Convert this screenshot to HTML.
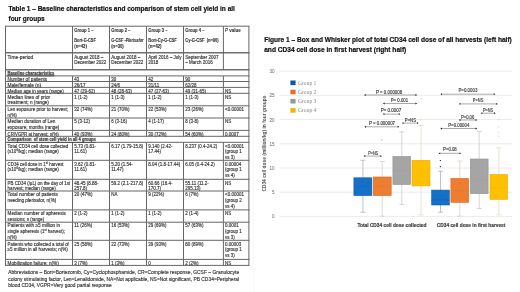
<!DOCTYPE html>
<html><head><meta charset="utf-8"><title>Table 1 and Figure 1</title>
<style>
html,body{margin:0;padding:0;background:#fff;}
body{width:520px;height:292px;overflow:hidden;}
svg{display:block;}
</style></head>
<body>
<svg width="520" height="292" viewBox="0 0 520 292" font-family="Liberation Sans, Arial, sans-serif" font-size="5" fill="#333">
<text x="0" y="0" transform="translate(8.50,10.90) scale(0.857,1)" font-size="7.6" font-weight="700" fill="#111" stroke="#111" stroke-width="0.22">Table 1 – Baseline characteristics and comparison of stem cell yield in all</text>
<text x="0" y="0" transform="translate(8.50,20.90) scale(0.85,1)" font-size="7.6" font-weight="700" fill="#111" stroke="#111" stroke-width="0.22">four groups</text>
<line x1="5.00" y1="26.20" x2="249.40" y2="26.20" stroke="#666" stroke-width="1.0" />
<line x1="5.00" y1="52.70" x2="249.40" y2="52.70" stroke="#707070" stroke-width="1.4" />
<line x1="5.00" y1="69.70" x2="249.40" y2="69.70" stroke="#707070" stroke-width="1.4" />
<line x1="5.00" y1="75.90" x2="249.40" y2="75.90" stroke="#666" stroke-width="1.0" />
<line x1="5.00" y1="81.50" x2="249.40" y2="81.50" stroke="#666" stroke-width="1.0" />
<line x1="5.00" y1="87.40" x2="249.40" y2="87.40" stroke="#666" stroke-width="1.0" />
<line x1="5.00" y1="93.30" x2="249.40" y2="93.30" stroke="#666" stroke-width="1.0" />
<line x1="5.00" y1="105.80" x2="249.40" y2="105.80" stroke="#666" stroke-width="1.0" />
<line x1="5.00" y1="118.00" x2="249.40" y2="118.00" stroke="#666" stroke-width="1.0" />
<line x1="5.00" y1="130.40" x2="249.40" y2="130.40" stroke="#666" stroke-width="1.0" />
<line x1="5.00" y1="136.30" x2="249.40" y2="136.30" stroke="#666" stroke-width="1.0" />
<line x1="5.00" y1="142.30" x2="249.40" y2="142.30" stroke="#666" stroke-width="1.0" />
<line x1="5.00" y1="160.30" x2="249.40" y2="160.30" stroke="#666" stroke-width="1.0" />
<line x1="5.00" y1="179.30" x2="249.40" y2="179.30" stroke="#666" stroke-width="1.0" />
<line x1="5.00" y1="191.00" x2="249.40" y2="191.00" stroke="#666" stroke-width="1.0" />
<line x1="5.00" y1="209.90" x2="249.40" y2="209.90" stroke="#666" stroke-width="1.0" />
<line x1="5.00" y1="222.20" x2="249.40" y2="222.20" stroke="#666" stroke-width="1.0" />
<line x1="5.00" y1="240.30" x2="249.40" y2="240.30" stroke="#666" stroke-width="1.0" />
<line x1="5.00" y1="259.40" x2="249.40" y2="259.40" stroke="#666" stroke-width="1.0" />
<line x1="5.00" y1="265.40" x2="249.40" y2="265.40" stroke="#666" stroke-width="1.0" />
<line x1="5.50" y1="26.20" x2="5.50" y2="52.70" stroke="#666" stroke-width="1.0" />
<line x1="248.90" y1="26.20" x2="248.90" y2="52.70" stroke="#666" stroke-width="1.0" />
<line x1="72.50" y1="26.20" x2="72.50" y2="52.70" stroke="#666" stroke-width="1.0" />
<line x1="109.50" y1="26.20" x2="109.50" y2="52.70" stroke="#666" stroke-width="1.0" />
<line x1="146.50" y1="26.20" x2="146.50" y2="52.70" stroke="#666" stroke-width="1.0" />
<line x1="183.50" y1="26.20" x2="183.50" y2="52.70" stroke="#666" stroke-width="1.0" />
<line x1="223.40" y1="26.20" x2="223.40" y2="52.70" stroke="#666" stroke-width="1.0" />
<line x1="5.50" y1="52.70" x2="5.50" y2="69.70" stroke="#666" stroke-width="1.0" />
<line x1="248.90" y1="52.70" x2="248.90" y2="69.70" stroke="#666" stroke-width="1.0" />
<line x1="72.50" y1="52.70" x2="72.50" y2="69.70" stroke="#666" stroke-width="1.0" />
<line x1="109.50" y1="52.70" x2="109.50" y2="69.70" stroke="#666" stroke-width="1.0" />
<line x1="146.50" y1="52.70" x2="146.50" y2="69.70" stroke="#666" stroke-width="1.0" />
<line x1="183.50" y1="52.70" x2="183.50" y2="69.70" stroke="#666" stroke-width="1.0" />
<line x1="223.40" y1="52.70" x2="223.40" y2="69.70" stroke="#666" stroke-width="1.0" />
<line x1="5.50" y1="69.70" x2="5.50" y2="75.90" stroke="#666" stroke-width="1.0" />
<line x1="248.90" y1="69.70" x2="248.90" y2="75.90" stroke="#666" stroke-width="1.0" />
<line x1="5.50" y1="75.90" x2="5.50" y2="81.50" stroke="#666" stroke-width="1.0" />
<line x1="248.90" y1="75.90" x2="248.90" y2="81.50" stroke="#666" stroke-width="1.0" />
<line x1="72.50" y1="75.90" x2="72.50" y2="81.50" stroke="#666" stroke-width="1.0" />
<line x1="109.50" y1="75.90" x2="109.50" y2="81.50" stroke="#666" stroke-width="1.0" />
<line x1="146.50" y1="75.90" x2="146.50" y2="81.50" stroke="#666" stroke-width="1.0" />
<line x1="183.50" y1="75.90" x2="183.50" y2="81.50" stroke="#666" stroke-width="1.0" />
<line x1="223.40" y1="75.90" x2="223.40" y2="81.50" stroke="#666" stroke-width="1.0" />
<line x1="5.50" y1="81.50" x2="5.50" y2="87.40" stroke="#666" stroke-width="1.0" />
<line x1="248.90" y1="81.50" x2="248.90" y2="87.40" stroke="#666" stroke-width="1.0" />
<line x1="72.50" y1="81.50" x2="72.50" y2="87.40" stroke="#666" stroke-width="1.0" />
<line x1="109.50" y1="81.50" x2="109.50" y2="87.40" stroke="#666" stroke-width="1.0" />
<line x1="146.50" y1="81.50" x2="146.50" y2="87.40" stroke="#666" stroke-width="1.0" />
<line x1="183.50" y1="81.50" x2="183.50" y2="87.40" stroke="#666" stroke-width="1.0" />
<line x1="223.40" y1="81.50" x2="223.40" y2="87.40" stroke="#666" stroke-width="1.0" />
<line x1="5.50" y1="87.40" x2="5.50" y2="93.30" stroke="#666" stroke-width="1.0" />
<line x1="248.90" y1="87.40" x2="248.90" y2="93.30" stroke="#666" stroke-width="1.0" />
<line x1="72.50" y1="87.40" x2="72.50" y2="93.30" stroke="#666" stroke-width="1.0" />
<line x1="109.50" y1="87.40" x2="109.50" y2="93.30" stroke="#666" stroke-width="1.0" />
<line x1="146.50" y1="87.40" x2="146.50" y2="93.30" stroke="#666" stroke-width="1.0" />
<line x1="183.50" y1="87.40" x2="183.50" y2="93.30" stroke="#666" stroke-width="1.0" />
<line x1="223.40" y1="87.40" x2="223.40" y2="93.30" stroke="#666" stroke-width="1.0" />
<line x1="5.50" y1="93.30" x2="5.50" y2="105.80" stroke="#666" stroke-width="1.0" />
<line x1="248.90" y1="93.30" x2="248.90" y2="105.80" stroke="#666" stroke-width="1.0" />
<line x1="72.50" y1="93.30" x2="72.50" y2="105.80" stroke="#666" stroke-width="1.0" />
<line x1="109.50" y1="93.30" x2="109.50" y2="105.80" stroke="#666" stroke-width="1.0" />
<line x1="146.50" y1="93.30" x2="146.50" y2="105.80" stroke="#666" stroke-width="1.0" />
<line x1="183.50" y1="93.30" x2="183.50" y2="105.80" stroke="#666" stroke-width="1.0" />
<line x1="223.40" y1="93.30" x2="223.40" y2="105.80" stroke="#666" stroke-width="1.0" />
<line x1="5.50" y1="105.80" x2="5.50" y2="118.00" stroke="#666" stroke-width="1.0" />
<line x1="248.90" y1="105.80" x2="248.90" y2="118.00" stroke="#666" stroke-width="1.0" />
<line x1="72.50" y1="105.80" x2="72.50" y2="118.00" stroke="#666" stroke-width="1.0" />
<line x1="109.50" y1="105.80" x2="109.50" y2="118.00" stroke="#666" stroke-width="1.0" />
<line x1="146.50" y1="105.80" x2="146.50" y2="118.00" stroke="#666" stroke-width="1.0" />
<line x1="183.50" y1="105.80" x2="183.50" y2="118.00" stroke="#666" stroke-width="1.0" />
<line x1="223.40" y1="105.80" x2="223.40" y2="118.00" stroke="#666" stroke-width="1.0" />
<line x1="5.50" y1="118.00" x2="5.50" y2="130.40" stroke="#666" stroke-width="1.0" />
<line x1="248.90" y1="118.00" x2="248.90" y2="130.40" stroke="#666" stroke-width="1.0" />
<line x1="72.50" y1="118.00" x2="72.50" y2="130.40" stroke="#666" stroke-width="1.0" />
<line x1="109.50" y1="118.00" x2="109.50" y2="130.40" stroke="#666" stroke-width="1.0" />
<line x1="146.50" y1="118.00" x2="146.50" y2="130.40" stroke="#666" stroke-width="1.0" />
<line x1="183.50" y1="118.00" x2="183.50" y2="130.40" stroke="#666" stroke-width="1.0" />
<line x1="223.40" y1="118.00" x2="223.40" y2="130.40" stroke="#666" stroke-width="1.0" />
<line x1="5.50" y1="130.40" x2="5.50" y2="136.30" stroke="#666" stroke-width="1.0" />
<line x1="248.90" y1="130.40" x2="248.90" y2="136.30" stroke="#666" stroke-width="1.0" />
<line x1="72.50" y1="130.40" x2="72.50" y2="136.30" stroke="#666" stroke-width="1.0" />
<line x1="109.50" y1="130.40" x2="109.50" y2="136.30" stroke="#666" stroke-width="1.0" />
<line x1="146.50" y1="130.40" x2="146.50" y2="136.30" stroke="#666" stroke-width="1.0" />
<line x1="183.50" y1="130.40" x2="183.50" y2="136.30" stroke="#666" stroke-width="1.0" />
<line x1="223.40" y1="130.40" x2="223.40" y2="136.30" stroke="#666" stroke-width="1.0" />
<line x1="5.50" y1="136.30" x2="5.50" y2="142.30" stroke="#666" stroke-width="1.0" />
<line x1="248.90" y1="136.30" x2="248.90" y2="142.30" stroke="#666" stroke-width="1.0" />
<line x1="5.50" y1="142.30" x2="5.50" y2="160.30" stroke="#666" stroke-width="1.0" />
<line x1="248.90" y1="142.30" x2="248.90" y2="160.30" stroke="#666" stroke-width="1.0" />
<line x1="72.50" y1="142.30" x2="72.50" y2="160.30" stroke="#666" stroke-width="1.0" />
<line x1="109.50" y1="142.30" x2="109.50" y2="160.30" stroke="#666" stroke-width="1.0" />
<line x1="146.50" y1="142.30" x2="146.50" y2="160.30" stroke="#666" stroke-width="1.0" />
<line x1="183.50" y1="142.30" x2="183.50" y2="160.30" stroke="#666" stroke-width="1.0" />
<line x1="223.40" y1="142.30" x2="223.40" y2="160.30" stroke="#666" stroke-width="1.0" />
<line x1="5.50" y1="160.30" x2="5.50" y2="179.30" stroke="#666" stroke-width="1.0" />
<line x1="248.90" y1="160.30" x2="248.90" y2="179.30" stroke="#666" stroke-width="1.0" />
<line x1="72.50" y1="160.30" x2="72.50" y2="179.30" stroke="#666" stroke-width="1.0" />
<line x1="109.50" y1="160.30" x2="109.50" y2="179.30" stroke="#666" stroke-width="1.0" />
<line x1="146.50" y1="160.30" x2="146.50" y2="179.30" stroke="#666" stroke-width="1.0" />
<line x1="183.50" y1="160.30" x2="183.50" y2="179.30" stroke="#666" stroke-width="1.0" />
<line x1="223.40" y1="160.30" x2="223.40" y2="179.30" stroke="#666" stroke-width="1.0" />
<line x1="5.50" y1="179.30" x2="5.50" y2="191.00" stroke="#666" stroke-width="1.0" />
<line x1="248.90" y1="179.30" x2="248.90" y2="191.00" stroke="#666" stroke-width="1.0" />
<line x1="72.50" y1="179.30" x2="72.50" y2="191.00" stroke="#666" stroke-width="1.0" />
<line x1="109.50" y1="179.30" x2="109.50" y2="191.00" stroke="#666" stroke-width="1.0" />
<line x1="146.50" y1="179.30" x2="146.50" y2="191.00" stroke="#666" stroke-width="1.0" />
<line x1="183.50" y1="179.30" x2="183.50" y2="191.00" stroke="#666" stroke-width="1.0" />
<line x1="223.40" y1="179.30" x2="223.40" y2="191.00" stroke="#666" stroke-width="1.0" />
<line x1="5.50" y1="191.00" x2="5.50" y2="209.90" stroke="#666" stroke-width="1.0" />
<line x1="248.90" y1="191.00" x2="248.90" y2="209.90" stroke="#666" stroke-width="1.0" />
<line x1="72.50" y1="191.00" x2="72.50" y2="209.90" stroke="#666" stroke-width="1.0" />
<line x1="109.50" y1="191.00" x2="109.50" y2="209.90" stroke="#666" stroke-width="1.0" />
<line x1="146.50" y1="191.00" x2="146.50" y2="209.90" stroke="#666" stroke-width="1.0" />
<line x1="183.50" y1="191.00" x2="183.50" y2="209.90" stroke="#666" stroke-width="1.0" />
<line x1="223.40" y1="191.00" x2="223.40" y2="209.90" stroke="#666" stroke-width="1.0" />
<line x1="5.50" y1="209.90" x2="5.50" y2="222.20" stroke="#666" stroke-width="1.0" />
<line x1="248.90" y1="209.90" x2="248.90" y2="222.20" stroke="#666" stroke-width="1.0" />
<line x1="72.50" y1="209.90" x2="72.50" y2="222.20" stroke="#666" stroke-width="1.0" />
<line x1="109.50" y1="209.90" x2="109.50" y2="222.20" stroke="#666" stroke-width="1.0" />
<line x1="146.50" y1="209.90" x2="146.50" y2="222.20" stroke="#666" stroke-width="1.0" />
<line x1="183.50" y1="209.90" x2="183.50" y2="222.20" stroke="#666" stroke-width="1.0" />
<line x1="223.40" y1="209.90" x2="223.40" y2="222.20" stroke="#666" stroke-width="1.0" />
<line x1="5.50" y1="222.20" x2="5.50" y2="240.30" stroke="#666" stroke-width="1.0" />
<line x1="248.90" y1="222.20" x2="248.90" y2="240.30" stroke="#666" stroke-width="1.0" />
<line x1="72.50" y1="222.20" x2="72.50" y2="240.30" stroke="#666" stroke-width="1.0" />
<line x1="109.50" y1="222.20" x2="109.50" y2="240.30" stroke="#666" stroke-width="1.0" />
<line x1="146.50" y1="222.20" x2="146.50" y2="240.30" stroke="#666" stroke-width="1.0" />
<line x1="183.50" y1="222.20" x2="183.50" y2="240.30" stroke="#666" stroke-width="1.0" />
<line x1="223.40" y1="222.20" x2="223.40" y2="240.30" stroke="#666" stroke-width="1.0" />
<line x1="5.50" y1="240.30" x2="5.50" y2="259.40" stroke="#666" stroke-width="1.0" />
<line x1="248.90" y1="240.30" x2="248.90" y2="259.40" stroke="#666" stroke-width="1.0" />
<line x1="72.50" y1="240.30" x2="72.50" y2="259.40" stroke="#666" stroke-width="1.0" />
<line x1="109.50" y1="240.30" x2="109.50" y2="259.40" stroke="#666" stroke-width="1.0" />
<line x1="146.50" y1="240.30" x2="146.50" y2="259.40" stroke="#666" stroke-width="1.0" />
<line x1="183.50" y1="240.30" x2="183.50" y2="259.40" stroke="#666" stroke-width="1.0" />
<line x1="223.40" y1="240.30" x2="223.40" y2="259.40" stroke="#666" stroke-width="1.0" />
<line x1="5.50" y1="259.40" x2="5.50" y2="265.40" stroke="#666" stroke-width="1.0" />
<line x1="248.90" y1="259.40" x2="248.90" y2="265.40" stroke="#666" stroke-width="1.0" />
<line x1="72.50" y1="259.40" x2="72.50" y2="265.40" stroke="#666" stroke-width="1.0" />
<line x1="109.50" y1="259.40" x2="109.50" y2="265.40" stroke="#666" stroke-width="1.0" />
<line x1="146.50" y1="259.40" x2="146.50" y2="265.40" stroke="#666" stroke-width="1.0" />
<line x1="183.50" y1="259.40" x2="183.50" y2="265.40" stroke="#666" stroke-width="1.0" />
<line x1="223.40" y1="259.40" x2="223.40" y2="265.40" stroke="#666" stroke-width="1.0" />
<text x="74.30" y="31.50" font-weight="700" textLength="19.2" lengthAdjust="spacingAndGlyphs" stroke="#333" stroke-width="0.1">Group 1 –</text>
<text x="74.30" y="41.90" font-weight="700" textLength="21.5" lengthAdjust="spacingAndGlyphs" stroke="#333" stroke-width="0.1">Bort-G-CSF</text>
<text x="74.30" y="47.90" font-weight="700" textLength="12.6" lengthAdjust="spacingAndGlyphs" stroke="#333" stroke-width="0.1">(n=43)</text>
<text x="111.20" y="31.50" font-weight="700" textLength="19.2" lengthAdjust="spacingAndGlyphs" stroke="#333" stroke-width="0.1">Group 2 –</text>
<text x="111.20" y="41.90" font-weight="700" textLength="32.4" lengthAdjust="spacingAndGlyphs" stroke="#333" stroke-width="0.1">G-CSF <tspan font-style="italic" font-weight="700">-Plerixafor</tspan></text>
<text x="111.20" y="47.90" font-weight="700" textLength="12.6" lengthAdjust="spacingAndGlyphs" stroke="#333" stroke-width="0.1">(n=30)</text>
<text x="148.30" y="31.50" font-weight="700" textLength="19.2" lengthAdjust="spacingAndGlyphs" stroke="#333" stroke-width="0.1">Group 3 –</text>
<text x="148.30" y="41.90" font-weight="700" textLength="28.4" lengthAdjust="spacingAndGlyphs" stroke="#333" stroke-width="0.1">Bort-Cy-G-CSF</text>
<text x="148.30" y="47.90" font-weight="700" textLength="13.3" lengthAdjust="spacingAndGlyphs" stroke="#333" stroke-width="0.1">(n=42)</text>
<text x="185.30" y="31.50" font-weight="700" textLength="19.2" lengthAdjust="spacingAndGlyphs" stroke="#333" stroke-width="0.1">Group 4 –</text>
<text x="185.30" y="41.90" font-weight="700" textLength="33.4" lengthAdjust="spacingAndGlyphs" stroke="#333" stroke-width="0.1">Cy-G-CSF&#160;&#160;(n=90)</text>
<text x="225.10" y="31.50" font-weight="700" textLength="15.6" lengthAdjust="spacingAndGlyphs" stroke="#333" stroke-width="0.1"><tspan font-style="italic" font-weight="400">P</tspan> value</text>
<text x="7.60" y="58.50" textLength="25.6" lengthAdjust="spacingAndGlyphs" stroke="#333" stroke-width="0.15">Time-period</text>
<text x="0" y="0" transform="translate(74.30,58.50) scale(0.9,1)" stroke="#333" stroke-width="0.15">August 2018 –</text>
<text x="0" y="0" transform="translate(74.30,64.40) scale(0.9,1)" stroke="#333" stroke-width="0.15">December 2022</text>
<text x="0" y="0" transform="translate(111.20,58.50) scale(0.9,1)" stroke="#333" stroke-width="0.15">August 2018 –</text>
<text x="0" y="0" transform="translate(111.20,64.40) scale(0.9,1)" stroke="#333" stroke-width="0.15">December 2022</text>
<text x="0" y="0" transform="translate(148.30,58.50) scale(0.9,1)" stroke="#333" stroke-width="0.15">April 2016 – July</text>
<text x="0" y="0" transform="translate(148.30,64.40) scale(0.9,1)" stroke="#333" stroke-width="0.15">2018</text>
<text x="0" y="0" transform="translate(185.30,58.50) scale(0.9,1)" stroke="#333" stroke-width="0.15">September 2007</text>
<text x="0" y="0" transform="translate(185.30,64.40) scale(0.9,1)" stroke="#333" stroke-width="0.15">– March 2016</text>
<text x="7.60" y="74.60" font-weight="700" textLength="46.8" lengthAdjust="spacingAndGlyphs" text-decoration="underline" stroke="#333" stroke-width="0.2">Baseline characteristics</text>
<text x="7.60" y="81.10" textLength="39.6" lengthAdjust="spacingAndGlyphs" stroke="#333" stroke-width="0.15">Number of patients</text>
<text x="0" y="0" transform="translate(74.30,81.10) scale(0.9,1)" stroke="#333" stroke-width="0.15">43</text>
<text x="0" y="0" transform="translate(111.20,81.10) scale(0.9,1)" stroke="#333" stroke-width="0.15">30</text>
<text x="0" y="0" transform="translate(148.30,81.10) scale(0.9,1)" stroke="#333" stroke-width="0.15">42</text>
<text x="0" y="0" transform="translate(185.30,81.10) scale(0.9,1)" stroke="#333" stroke-width="0.15">90</text>
<text x="7.60" y="86.70" textLength="33.5" lengthAdjust="spacingAndGlyphs" stroke="#333" stroke-width="0.15">Male/female (n)</text>
<text x="0" y="0" transform="translate(74.30,86.70) scale(0.9,1)" stroke="#333" stroke-width="0.15">26/17</text>
<text x="0" y="0" transform="translate(111.20,86.70) scale(0.9,1)" stroke="#333" stroke-width="0.15">24/6</text>
<text x="0" y="0" transform="translate(148.30,86.70) scale(0.9,1)" stroke="#333" stroke-width="0.15">31/11</text>
<text x="0" y="0" transform="translate(185.30,86.70) scale(0.9,1)" stroke="#333" stroke-width="0.15">62/28</text>
<text x="7.60" y="92.60" textLength="56.2" lengthAdjust="spacingAndGlyphs" stroke="#333" stroke-width="0.15">Median age in years (range)</text>
<text x="0" y="0" transform="translate(74.30,92.60) scale(0.9,1)" stroke="#333" stroke-width="0.15">47 (29-62)</text>
<text x="0" y="0" transform="translate(111.20,92.60) scale(0.9,1)" stroke="#333" stroke-width="0.15">48 (28-63)</text>
<text x="0" y="0" transform="translate(148.30,92.60) scale(0.9,1)" stroke="#333" stroke-width="0.15">47 (27-63)</text>
<text x="0" y="0" transform="translate(185.30,92.60) scale(0.9,1)" stroke="#333" stroke-width="0.15">49 (31-65)</text>
<text x="0" y="0" transform="translate(225.10,92.60) scale(0.9,1)" stroke="#333" stroke-width="0.15">NS</text>
<text x="7.60" y="98.50" textLength="42.5" lengthAdjust="spacingAndGlyphs" stroke="#333" stroke-width="0.15">Median lines of prior</text>
<text x="7.60" y="104.40" textLength="41.3" lengthAdjust="spacingAndGlyphs" stroke="#333" stroke-width="0.15">treatment; n (range)</text>
<text x="0" y="0" transform="translate(74.30,98.50) scale(0.9,1)" stroke="#333" stroke-width="0.15">1 (1-2)</text>
<text x="0" y="0" transform="translate(111.20,98.50) scale(0.9,1)" stroke="#333" stroke-width="0.15">1 (1-3)</text>
<text x="0" y="0" transform="translate(148.30,98.50) scale(0.9,1)" stroke="#333" stroke-width="0.15">1 (1-2)</text>
<text x="0" y="0" transform="translate(185.30,98.50) scale(0.9,1)" stroke="#333" stroke-width="0.15">1 (1-3)</text>
<text x="0" y="0" transform="translate(225.10,98.50) scale(0.9,1)" stroke="#333" stroke-width="0.15">NS</text>
<text x="7.60" y="111.00" textLength="60.5" lengthAdjust="spacingAndGlyphs" stroke="#333" stroke-width="0.15">Len exposure prior to harvest;</text>
<text x="7.60" y="116.90" textLength="9.1" lengthAdjust="spacingAndGlyphs" stroke="#333" stroke-width="0.15">n(%)</text>
<text x="0" y="0" transform="translate(74.30,111.00) scale(0.9,1)" stroke="#333" stroke-width="0.15">32 (74%)</text>
<text x="0" y="0" transform="translate(111.20,111.00) scale(0.9,1)" stroke="#333" stroke-width="0.15">21 (70%)</text>
<text x="0" y="0" transform="translate(148.30,111.00) scale(0.9,1)" stroke="#333" stroke-width="0.15">22 (53%)</text>
<text x="0" y="0" transform="translate(185.30,111.00) scale(0.9,1)" stroke="#333" stroke-width="0.15">23 (26%)</text>
<text x="0" y="0" transform="translate(225.10,111.00) scale(0.9,1)" stroke="#333" stroke-width="0.15">&lt;0.00001</text>
<text x="7.60" y="123.20" textLength="47.8" lengthAdjust="spacingAndGlyphs" stroke="#333" stroke-width="0.15">Median duration of Len</text>
<text x="7.60" y="129.10" textLength="51.8" lengthAdjust="spacingAndGlyphs" stroke="#333" stroke-width="0.15">exposure; months (range)</text>
<text x="0" y="0" transform="translate(74.30,123.20) scale(0.9,1)" stroke="#333" stroke-width="0.15">5 (3-12)</text>
<text x="0" y="0" transform="translate(111.20,123.20) scale(0.9,1)" stroke="#333" stroke-width="0.15">6 (3-16)</text>
<text x="0" y="0" transform="translate(148.30,123.20) scale(0.9,1)" stroke="#333" stroke-width="0.15">4 (1-17)</text>
<text x="0" y="0" transform="translate(185.30,123.20) scale(0.9,1)" stroke="#333" stroke-width="0.15">8 (3-8)</text>
<text x="0" y="0" transform="translate(225.10,123.20) scale(0.9,1)" stroke="#333" stroke-width="0.15">NS</text>
<text x="7.60" y="135.60" textLength="51.2" lengthAdjust="spacingAndGlyphs" stroke="#333" stroke-width="0.15">CR/VGPR at harvest; n(%)</text>
<text x="0" y="0" transform="translate(74.30,135.60) scale(0.9,1)" stroke="#333" stroke-width="0.15">40 (93%)</text>
<text x="0" y="0" transform="translate(111.20,135.60) scale(0.9,1)" stroke="#333" stroke-width="0.15">24 (80%)</text>
<text x="0" y="0" transform="translate(148.30,135.60) scale(0.9,1)" stroke="#333" stroke-width="0.15">30 (72%)</text>
<text x="0" y="0" transform="translate(185.30,135.60) scale(0.9,1)" stroke="#333" stroke-width="0.15">54 (60%)</text>
<text x="0" y="0" transform="translate(225.10,135.60) scale(0.9,1)" stroke="#333" stroke-width="0.15">0.0007</text>
<text x="7.60" y="141.20" font-weight="700" textLength="88.2" lengthAdjust="spacingAndGlyphs" text-decoration="underline" stroke="#333" stroke-width="0.2">Comparison&#160; of stem cell yield in all 4 groups</text>
<text x="7.60" y="147.50" textLength="60.8" lengthAdjust="spacingAndGlyphs" stroke="#333" stroke-width="0.15">Total CD34 cell dose collected</text>
<text x="7.60" y="153.40" textLength="51.2" lengthAdjust="spacingAndGlyphs" stroke="#333" stroke-width="0.15">(x10<tspan font-size="3.4" baseline-shift="1.7">6</tspan>/kg); median (range)</text>
<text x="0" y="0" transform="translate(74.30,147.50) scale(0.9,1)" stroke="#333" stroke-width="0.15">5.73 (0.81-</text>
<text x="0" y="0" transform="translate(74.30,153.40) scale(0.9,1)" stroke="#333" stroke-width="0.15">11.61)</text>
<text x="0" y="0" transform="translate(111.20,147.50) scale(0.9,1)" stroke="#333" stroke-width="0.15">6.17 (1.79-15.8)</text>
<text x="0" y="0" transform="translate(148.30,147.50) scale(0.9,1)" stroke="#333" stroke-width="0.15">9.140 (2.42-</text>
<text x="0" y="0" transform="translate(148.30,153.40) scale(0.9,1)" stroke="#333" stroke-width="0.15">17.44)</text>
<text x="0" y="0" transform="translate(185.30,147.50) scale(0.9,1)" stroke="#333" stroke-width="0.15">8.237 (0.4-24.2)</text>
<text x="0" y="0" transform="translate(225.10,147.50) scale(0.9,1)" stroke="#333" stroke-width="0.15">&lt;0.00001</text>
<text x="0" y="0" transform="translate(225.10,153.40) scale(0.9,1)" stroke="#333" stroke-width="0.15">(group 1</text>
<text x="0" y="0" transform="translate(225.10,159.30) scale(0.9,1)" stroke="#333" stroke-width="0.15">vs 3)</text>
<text x="7.60" y="165.50" textLength="56.0" lengthAdjust="spacingAndGlyphs" stroke="#333" stroke-width="0.15">CD34 cell dose in 1<tspan font-size="3.4" baseline-shift="1.7">st</tspan> harvest</text>
<text x="7.60" y="171.40" textLength="51.2" lengthAdjust="spacingAndGlyphs" stroke="#333" stroke-width="0.15">(x10<tspan font-size="3.4" baseline-shift="1.7">6</tspan>/kg); median (range)</text>
<text x="0" y="0" transform="translate(74.30,165.50) scale(0.9,1)" stroke="#333" stroke-width="0.15">3.62 (0.81-</text>
<text x="0" y="0" transform="translate(74.30,171.40) scale(0.9,1)" stroke="#333" stroke-width="0.15">11.61)</text>
<text x="0" y="0" transform="translate(111.20,165.50) scale(0.9,1)" stroke="#333" stroke-width="0.15">5.20 (1.54-</text>
<text x="0" y="0" transform="translate(111.20,171.40) scale(0.9,1)" stroke="#333" stroke-width="0.15">11.47)</text>
<text x="0" y="0" transform="translate(148.30,165.50) scale(0.9,1)" stroke="#333" stroke-width="0.15">8.04 (1.8-17.44)</text>
<text x="0" y="0" transform="translate(185.30,165.50) scale(0.9,1)" stroke="#333" stroke-width="0.15">6.05 (0.4-24.2)</text>
<text x="0" y="0" transform="translate(225.10,165.50) scale(0.9,1)" stroke="#333" stroke-width="0.15">0.00004</text>
<text x="0" y="0" transform="translate(225.10,171.40) scale(0.9,1)" stroke="#333" stroke-width="0.15">(group 1</text>
<text x="0" y="0" transform="translate(225.10,177.30) scale(0.9,1)" stroke="#333" stroke-width="0.15">vs 4)</text>
<text x="7.60" y="184.50" textLength="62.5" lengthAdjust="spacingAndGlyphs" stroke="#333" stroke-width="0.15">PB CD34 (/µL) on the day of 1st</text>
<text x="7.60" y="190.40" textLength="48.2" lengthAdjust="spacingAndGlyphs" stroke="#333" stroke-width="0.15">harvest; median (range)</text>
<text x="0" y="0" transform="translate(74.30,184.50) scale(0.9,1)" stroke="#333" stroke-width="0.15">48.45 (8.88-</text>
<text x="0" y="0" transform="translate(74.30,190.40) scale(0.9,1)" stroke="#333" stroke-width="0.15">257.8)</text>
<text x="0" y="0" transform="translate(111.20,184.50) scale(0.9,1)" stroke="#333" stroke-width="0.15">59.2 (2.1-217.8)</text>
<text x="0" y="0" transform="translate(148.30,184.50) scale(0.9,1)" stroke="#333" stroke-width="0.15">60.66 (16.4-</text>
<text x="0" y="0" transform="translate(148.30,190.40) scale(0.9,1)" stroke="#333" stroke-width="0.15">170.7)</text>
<text x="0" y="0" transform="translate(185.30,184.50) scale(0.9,1)" stroke="#333" stroke-width="0.15">55.11 (11.2-</text>
<text x="0" y="0" transform="translate(185.30,190.40) scale(0.9,1)" stroke="#333" stroke-width="0.15">295.13)</text>
<text x="0" y="0" transform="translate(225.10,184.50) scale(0.9,1)" stroke="#333" stroke-width="0.15">NS</text>
<text x="7.60" y="196.20" textLength="50.4" lengthAdjust="spacingAndGlyphs" stroke="#333" stroke-width="0.15">Total number of patients</text>
<text x="7.60" y="202.10" textLength="48.7" lengthAdjust="spacingAndGlyphs" stroke="#333" stroke-width="0.15">needing plerixafor, n(%)</text>
<text x="0" y="0" transform="translate(74.30,196.20) scale(0.9,1)" stroke="#333" stroke-width="0.15">20 (47%)</text>
<text x="0" y="0" transform="translate(111.20,196.20) scale(0.9,1)" stroke="#333" stroke-width="0.15">NA</text>
<text x="0" y="0" transform="translate(148.30,196.20) scale(0.9,1)" stroke="#333" stroke-width="0.15">9 (22%)</text>
<text x="0" y="0" transform="translate(185.30,196.20) scale(0.9,1)" stroke="#333" stroke-width="0.15">6 (7%)</text>
<text x="0" y="0" transform="translate(225.10,196.20) scale(0.9,1)" stroke="#333" stroke-width="0.15">&lt;0.00001</text>
<text x="0" y="0" transform="translate(225.10,202.10) scale(0.9,1)" stroke="#333" stroke-width="0.15">(group 2</text>
<text x="0" y="0" transform="translate(225.10,208.00) scale(0.9,1)" stroke="#333" stroke-width="0.15">vs 4)</text>
<text x="7.60" y="215.10" textLength="58.2" lengthAdjust="spacingAndGlyphs" stroke="#333" stroke-width="0.15">Median number of apheresis</text>
<text x="7.60" y="221.00" textLength="36.5" lengthAdjust="spacingAndGlyphs" stroke="#333" stroke-width="0.15">sessions; n (range)</text>
<text x="0" y="0" transform="translate(74.30,215.10) scale(0.9,1)" stroke="#333" stroke-width="0.15">2 (1-2)</text>
<text x="0" y="0" transform="translate(111.20,215.10) scale(0.9,1)" stroke="#333" stroke-width="0.15">1 (1-2)</text>
<text x="0" y="0" transform="translate(148.30,215.10) scale(0.9,1)" stroke="#333" stroke-width="0.15">1 (1-2)</text>
<text x="0" y="0" transform="translate(185.30,215.10) scale(0.9,1)" stroke="#333" stroke-width="0.15">2 (1-4)</text>
<text x="0" y="0" transform="translate(225.10,215.10) scale(0.9,1)" stroke="#333" stroke-width="0.15">NS</text>
<text x="7.60" y="227.40" textLength="52.5" lengthAdjust="spacingAndGlyphs" stroke="#333" stroke-width="0.15">Patients with ≥5 million in</text>
<text x="7.60" y="233.30" textLength="57.3" lengthAdjust="spacingAndGlyphs" stroke="#333" stroke-width="0.15">single apheresis (1<tspan font-size="3.4" baseline-shift="1.7">st</tspan> harvest);</text>
<text x="7.60" y="239.20" textLength="9.1" lengthAdjust="spacingAndGlyphs" stroke="#333" stroke-width="0.15">n(%)</text>
<text x="0" y="0" transform="translate(74.30,227.40) scale(0.9,1)" stroke="#333" stroke-width="0.15">11 (26%)</text>
<text x="0" y="0" transform="translate(111.20,227.40) scale(0.9,1)" stroke="#333" stroke-width="0.15">16 (53%)</text>
<text x="0" y="0" transform="translate(148.30,227.40) scale(0.9,1)" stroke="#333" stroke-width="0.15">29 (69%)</text>
<text x="0" y="0" transform="translate(185.30,227.40) scale(0.9,1)" stroke="#333" stroke-width="0.15">57 (63%)</text>
<text x="0" y="0" transform="translate(225.10,227.40) scale(0.9,1)" stroke="#333" stroke-width="0.15">0.0001</text>
<text x="0" y="0" transform="translate(225.10,233.30) scale(0.9,1)" stroke="#333" stroke-width="0.15">(group 1</text>
<text x="0" y="0" transform="translate(225.10,239.20) scale(0.9,1)" stroke="#333" stroke-width="0.15">vs 3)</text>
<text x="7.60" y="245.50" textLength="61.2" lengthAdjust="spacingAndGlyphs" stroke="#333" stroke-width="0.15">Patients who collected a total of</text>
<text x="7.60" y="251.40" textLength="60.3" lengthAdjust="spacingAndGlyphs" stroke="#333" stroke-width="0.15">≥5 million in all harvests; n(%)</text>
<text x="0" y="0" transform="translate(74.30,245.50) scale(0.9,1)" stroke="#333" stroke-width="0.15">25 (58%)</text>
<text x="0" y="0" transform="translate(111.20,245.50) scale(0.9,1)" stroke="#333" stroke-width="0.15">22 (73%)</text>
<text x="0" y="0" transform="translate(148.30,245.50) scale(0.9,1)" stroke="#333" stroke-width="0.15">39 (93%)</text>
<text x="0" y="0" transform="translate(185.30,245.50) scale(0.9,1)" stroke="#333" stroke-width="0.15">80 (89%)</text>
<text x="0" y="0" transform="translate(225.10,245.50) scale(0.9,1)" stroke="#333" stroke-width="0.15">0.00003</text>
<text x="0" y="0" transform="translate(225.10,251.40) scale(0.9,1)" stroke="#333" stroke-width="0.15">(group 1</text>
<text x="0" y="0" transform="translate(225.10,257.30) scale(0.9,1)" stroke="#333" stroke-width="0.15">vs 3)</text>
<text x="7.60" y="264.60" textLength="51.2" lengthAdjust="spacingAndGlyphs" stroke="#333" stroke-width="0.15">Mobilization failure; n(%)</text>
<text x="0" y="0" transform="translate(74.30,264.60) scale(0.9,1)" stroke="#333" stroke-width="0.15">3 (7%)</text>
<text x="0" y="0" transform="translate(111.20,264.60) scale(0.9,1)" stroke="#333" stroke-width="0.15">1 (3%)</text>
<text x="0" y="0" transform="translate(148.30,264.60) scale(0.9,1)" stroke="#333" stroke-width="0.15">0</text>
<text x="0" y="0" transform="translate(185.30,264.60) scale(0.9,1)" stroke="#333" stroke-width="0.15">2 (2%)</text>
<text x="0" y="0" transform="translate(225.10,264.60) scale(0.9,1)" stroke="#333" stroke-width="0.15">NS</text>
<text x="8.20" y="273.73" font-size="5.5" textLength="231" lengthAdjust="spacingAndGlyphs" stroke="#333" stroke-width="0.15">Abbreviations – Bort=Bortezomib,  Cy=Cyclophosphamide,  CR=Complete  response,  GCSF  –  Granulocyte</text>
<text x="8.20" y="280.63" font-size="5.5" textLength="231" lengthAdjust="spacingAndGlyphs" stroke="#333" stroke-width="0.15">colony stimulating factor, Len=Lenalidomide, NA=Not applicable, NS=Not significant, PB CD34=Peripheral</text>
<text x="8.20" y="287.33" font-size="5.5" textLength="103.6" lengthAdjust="spacingAndGlyphs" stroke="#333" stroke-width="0.15">blood CD34, VGPR=Very good partial response</text>
<line x1="253.70" y1="25.00" x2="253.70" y2="292.00" stroke="#f4f4f4" stroke-width="0.8" />
<text x="264.20" y="41.70" font-size="7.2" font-weight="700" fill="#111" textLength="247.6" lengthAdjust="spacingAndGlyphs" stroke="#111" stroke-width="0.22">Figure 1 – Box and Whisker plot of total CD34 cell dose of all harvests (left half)</text>
<text x="264.20" y="51.70" font-size="7.2" font-weight="700" fill="#111" textLength="142.1" lengthAdjust="spacingAndGlyphs" stroke="#111" stroke-width="0.22">and CD34 cell dose in first harvest (right half)</text>
<line x1="279.50" y1="216.40" x2="512.00" y2="216.40" stroke="#ececec" stroke-width="1.0" />
<text x="274.60" y="218.36" font-size="4.6" fill="#666" text-anchor="end">0</text>
<line x1="279.50" y1="192.20" x2="512.00" y2="192.20" stroke="#ececec" stroke-width="1.0" />
<text x="274.60" y="194.16" font-size="4.6" fill="#666" text-anchor="end">5</text>
<line x1="279.50" y1="168.00" x2="512.00" y2="168.00" stroke="#ececec" stroke-width="1.0" />
<text x="274.60" y="169.96" font-size="4.6" fill="#666" text-anchor="end">10</text>
<line x1="279.50" y1="143.80" x2="512.00" y2="143.80" stroke="#ececec" stroke-width="1.0" />
<text x="274.60" y="145.76" font-size="4.6" fill="#666" text-anchor="end">15</text>
<line x1="279.50" y1="119.60" x2="512.00" y2="119.60" stroke="#ececec" stroke-width="1.0" />
<text x="274.60" y="121.56" font-size="4.6" fill="#666" text-anchor="end">20</text>
<line x1="279.50" y1="95.40" x2="512.00" y2="95.40" stroke="#ececec" stroke-width="1.0" />
<text x="274.60" y="97.36" font-size="4.6" fill="#666" text-anchor="end">25</text>
<line x1="279.50" y1="71.20" x2="512.00" y2="71.20" stroke="#ececec" stroke-width="1.0" />
<text x="274.60" y="73.16" font-size="4.6" fill="#666" text-anchor="end">30</text>
<text transform="translate(265.5,143.6) rotate(-90)" text-anchor="middle" font-size="5.0" font-weight="700" fill="#555" textLength="96" lengthAdjust="spacingAndGlyphs">CD34 cell dose (million/kg) in four groups</text>
<rect x="290.4" y="80.50" width="5.2" height="4.6" fill="#0f57a8"/>
<text x="298" y="84.60" font-family="Liberation Serif, serif" font-size="5.4" fill="#8a8a8a" textLength="18.4" lengthAdjust="spacingAndGlyphs">Group 1</text>
<rect x="290.4" y="89.70" width="5.2" height="4.6" fill="#e07028"/>
<text x="298" y="93.80" font-family="Liberation Serif, serif" font-size="5.4" fill="#8a8a8a" textLength="18.4" lengthAdjust="spacingAndGlyphs">Group 2</text>
<rect x="290.4" y="98.90" width="5.2" height="4.6" fill="#989898"/>
<text x="298" y="103.00" font-family="Liberation Serif, serif" font-size="5.4" fill="#8a8a8a" textLength="18.4" lengthAdjust="spacingAndGlyphs">Group 3</text>
<rect x="290.4" y="108.10" width="5.2" height="4.6" fill="#f2b400"/>
<text x="298" y="112.20" font-family="Liberation Serif, serif" font-size="5.4" fill="#8a8a8a" textLength="18.4" lengthAdjust="spacingAndGlyphs">Group 4</text>
<line x1="362.90" y1="160.20" x2="362.90" y2="212.20" stroke="#aab3c3" stroke-width="0.8" />
<line x1="360.40" y1="160.20" x2="365.40" y2="160.20" stroke="#aab3c3" stroke-width="0.8" />
<line x1="360.40" y1="212.20" x2="365.40" y2="212.20" stroke="#aab3c3" stroke-width="0.8" />
<rect x="353.9" y="177.8" width="18.00" height="17.80" fill="#1570c8" stroke="#0d5aa8" stroke-width="0.6"/>
<line x1="353.90" y1="186.50" x2="371.90" y2="186.50" stroke="#0d5aa8" stroke-width="0.6" opacity="0.3"/>
<path d="M362.10 185.20 l1.6 1.6 M362.10 186.80 l1.6 -1.6" stroke="#0d5aa8" stroke-width="0.4" opacity="0.5"/>
<line x1="382.25" y1="161.50" x2="382.25" y2="216.20" stroke="#dbcfc6" stroke-width="0.8" />
<line x1="379.75" y1="161.50" x2="384.75" y2="161.50" stroke="#dbcfc6" stroke-width="0.8" />
<line x1="379.75" y1="216.20" x2="384.75" y2="216.20" stroke="#dbcfc6" stroke-width="0.8" />
<rect x="373.3" y="177.0" width="17.90" height="18.60" fill="#ed7d31" stroke="#d9691f" stroke-width="0.6"/>
<line x1="373.30" y1="186.00" x2="391.20" y2="186.00" stroke="#d9691f" stroke-width="0.6" opacity="0.3"/>
<path d="M381.45 185.70 l1.6 1.6 M381.45 187.30 l1.6 -1.6" stroke="#d9691f" stroke-width="0.4" opacity="0.5"/>
<line x1="401.75" y1="131.90" x2="401.75" y2="204.40" stroke="#cbcbcb" stroke-width="0.8" />
<line x1="399.25" y1="131.90" x2="404.25" y2="131.90" stroke="#cbcbcb" stroke-width="0.8" />
<line x1="399.25" y1="204.40" x2="404.25" y2="204.40" stroke="#cbcbcb" stroke-width="0.8" />
<rect x="392.9" y="156.5" width="17.70" height="28.00" fill="#a5a5a5" stroke="#909090" stroke-width="0.6"/>
<line x1="392.90" y1="170.50" x2="410.60" y2="170.50" stroke="#909090" stroke-width="0.6" opacity="0.3"/>
<path d="M400.95 167.20 l1.6 1.6 M400.95 168.80 l1.6 -1.6" stroke="#909090" stroke-width="0.4" opacity="0.5"/>
<line x1="421.00" y1="125.50" x2="421.00" y2="214.80" stroke="#e6ddc6" stroke-width="0.8" />
<line x1="418.50" y1="125.50" x2="423.50" y2="125.50" stroke="#e6ddc6" stroke-width="0.8" />
<line x1="418.50" y1="214.80" x2="423.50" y2="214.80" stroke="#e6ddc6" stroke-width="0.8" />
<rect x="412.0" y="160.3" width="18.00" height="25.60" fill="#ffc000" stroke="#e6ad00" stroke-width="0.6"/>
<line x1="412.00" y1="177.30" x2="430.00" y2="177.30" stroke="#e6ad00" stroke-width="0.6" opacity="0.3"/>
<path d="M420.20 170.70 l1.6 1.6 M420.20 172.30 l1.6 -1.6" stroke="#e6ad00" stroke-width="0.4" opacity="0.5"/>
<line x1="440.50" y1="171.20" x2="440.50" y2="212.20" stroke="#aab3c3" stroke-width="0.8" />
<line x1="438.00" y1="171.20" x2="443.00" y2="171.20" stroke="#aab3c3" stroke-width="0.8" />
<line x1="438.00" y1="212.20" x2="443.00" y2="212.20" stroke="#aab3c3" stroke-width="0.8" />
<rect x="431.7" y="190.1" width="17.60" height="14.90" fill="#1570c8" stroke="#0d5aa8" stroke-width="0.6"/>
<line x1="431.70" y1="199.90" x2="449.30" y2="199.90" stroke="#0d5aa8" stroke-width="0.6" opacity="0.8"/>
<path d="M439.70 195.00 l1.6 1.6 M439.70 196.60 l1.6 -1.6" stroke="#0d5aa8" stroke-width="0.4" opacity="0.5"/>
<line x1="459.80" y1="161.10" x2="459.80" y2="216.20" stroke="#dbcfc6" stroke-width="0.8" />
<line x1="457.30" y1="161.10" x2="462.30" y2="161.10" stroke="#dbcfc6" stroke-width="0.8" />
<line x1="457.30" y1="216.20" x2="462.30" y2="216.20" stroke="#dbcfc6" stroke-width="0.8" />
<rect x="450.9" y="178.4" width="17.80" height="23.90" fill="#ed7d31" stroke="#d9691f" stroke-width="0.6"/>
<line x1="450.90" y1="190.50" x2="468.70" y2="190.50" stroke="#d9691f" stroke-width="0.6" opacity="0.3"/>
<path d="M459.00 182.90 l1.6 1.6 M459.00 184.50 l1.6 -1.6" stroke="#d9691f" stroke-width="0.4" opacity="0.5"/>
<line x1="479.20" y1="131.60" x2="479.20" y2="208.50" stroke="#cbcbcb" stroke-width="0.8" />
<line x1="476.70" y1="131.60" x2="481.70" y2="131.60" stroke="#cbcbcb" stroke-width="0.8" />
<line x1="476.70" y1="208.50" x2="481.70" y2="208.50" stroke="#cbcbcb" stroke-width="0.8" />
<rect x="470.3" y="159.0" width="17.80" height="34.60" fill="#a5a5a5" stroke="#909090" stroke-width="0.6"/>
<line x1="470.30" y1="180.00" x2="488.10" y2="180.00" stroke="#909090" stroke-width="0.6" opacity="0.3"/>
<path d="M478.40 177.90 l1.6 1.6 M478.40 179.50 l1.6 -1.6" stroke="#909090" stroke-width="0.4" opacity="0.5"/>
<line x1="498.80" y1="147.90" x2="498.80" y2="214.80" stroke="#e6ddc6" stroke-width="0.8" />
<line x1="496.30" y1="147.90" x2="501.30" y2="147.90" stroke="#e6ddc6" stroke-width="0.8" />
<line x1="496.30" y1="214.80" x2="501.30" y2="214.80" stroke="#e6ddc6" stroke-width="0.8" />
<rect x="490.0" y="174.6" width="17.60" height="24.70" fill="#ffc000" stroke="#e6ad00" stroke-width="0.6"/>
<line x1="490.00" y1="187.90" x2="507.60" y2="187.90" stroke="#e6ad00" stroke-width="0.6" opacity="0.3"/>
<path d="M498.00 182.10 l1.6 1.6 M498.00 183.70 l1.6 -1.6" stroke="#e6ad00" stroke-width="0.4" opacity="0.5"/>
<circle cx="382.0" cy="140.0" r="0.7" fill="#c8a890"/>
<circle cx="420.9" cy="98.7" r="0.7" fill="#e6d6a8"/>
<circle cx="421.0" cy="119.8" r="0.7" fill="#e6d6a8"/>
<circle cx="440.4" cy="160.6" r="0.7" fill="#223"/>
<circle cx="440.4" cy="166.6" r="0.7" fill="#223"/>
<circle cx="498.6" cy="119.5" r="0.7" fill="#e6d6a8"/>
<circle cx="498.6" cy="126.9" r="0.7" fill="#e6d6a8"/>
<circle cx="498.6" cy="132.5" r="0.7" fill="#e6d6a8"/>
<circle cx="498.6" cy="136.2" r="0.7" fill="#e6d6a8"/>
<line x1="365.00" y1="95.00" x2="416.10" y2="95.00" stroke="#555" stroke-width="0.5" />
<path d="M364.0 95.0 l1.6 -0.9 v1.8z M417.1 95.0 l-1.6 -0.9 v1.8z" fill="#111"/>
<text x="389.10" y="93.56" font-size="4.6" fill="#333" textLength="26.3" lengthAdjust="spacingAndGlyphs" text-anchor="middle" stroke="#333" stroke-width="0.12">P = 0.000008</text>
<line x1="384.00" y1="103.50" x2="416.10" y2="103.50" stroke="#555" stroke-width="0.5" />
<path d="M383.0 103.5 l1.6 -0.9 v1.8z M417.1 103.5 l-1.6 -0.9 v1.8z" fill="#111"/>
<text x="399.40" y="102.26" font-size="4.6" fill="#333" textLength="17.3" lengthAdjust="spacingAndGlyphs" text-anchor="middle" stroke="#333" stroke-width="0.12">P= 0.001</text>
<line x1="383.80" y1="114.10" x2="399.40" y2="114.10" stroke="#555" stroke-width="0.5" />
<path d="M382.8 114.1 l1.6 -0.9 v1.8z M400.4 114.1 l-1.6 -0.9 v1.8z" fill="#111"/>
<text x="391.00" y="111.96" font-size="4.6" fill="#333" textLength="20.6" lengthAdjust="spacingAndGlyphs" text-anchor="middle" stroke="#333" stroke-width="0.12">P= 0.0007</text>
<line x1="365.40" y1="126.80" x2="398.30" y2="126.80" stroke="#555" stroke-width="0.5" />
<path d="M364.4 126.8 l1.6 -0.9 v1.8z M399.3 126.8 l-1.6 -0.9 v1.8z" fill="#111"/>
<text x="382.00" y="125.46" font-size="4.6" fill="#333" textLength="26.1" lengthAdjust="spacingAndGlyphs" text-anchor="middle" stroke="#333" stroke-width="0.12">P = 0.000007</text>
<line x1="402.90" y1="123.10" x2="417.60" y2="123.10" stroke="#555" stroke-width="0.5" />
<path d="M401.9 123.1 l1.6 -0.9 v1.8z M418.6 123.1 l-1.6 -0.9 v1.8z" fill="#111"/>
<text x="410.40" y="121.86" font-size="4.6" fill="#333" textLength="11.100000000000001" lengthAdjust="spacingAndGlyphs" text-anchor="middle" stroke="#333" stroke-width="0.12">P=NS</text>
<line x1="364.60" y1="156.10" x2="380.90" y2="156.10" stroke="#555" stroke-width="0.5" />
<path d="M363.6 156.1 l1.6 -0.9 v1.8z M381.9 156.1 l-1.6 -0.9 v1.8z" fill="#111"/>
<text x="373.20" y="155.16" font-size="4.6" fill="#333" textLength="9.700000000000001" lengthAdjust="spacingAndGlyphs" text-anchor="middle" stroke="#333" stroke-width="0.12">P=NS</text>
<line x1="441.40" y1="94.20" x2="494.40" y2="94.20" stroke="#555" stroke-width="0.5" />
<path d="M440.4 94.2 l1.6 -0.9 v1.8z M495.4 94.2 l-1.6 -0.9 v1.8z" fill="#111"/>
<text x="467.90" y="91.96" font-size="4.6" fill="#333" textLength="18.900000000000002" lengthAdjust="spacingAndGlyphs" text-anchor="middle" stroke="#333" stroke-width="0.12">P=0.0003</text>
<line x1="459.80" y1="103.90" x2="496.80" y2="103.90" stroke="#555" stroke-width="0.5" />
<path d="M458.8 103.9 l1.6 -0.9 v1.8z M497.8 103.9 l-1.6 -0.9 v1.8z" fill="#111"/>
<text x="478.10" y="101.86" font-size="4.6" fill="#333" textLength="10.5" lengthAdjust="spacingAndGlyphs" text-anchor="middle" stroke="#333" stroke-width="0.12">P=NS</text>
<line x1="481.70" y1="113.20" x2="494.60" y2="113.20" stroke="#555" stroke-width="0.5" />
<path d="M480.7 113.2 l1.6 -0.9 v1.8z M495.6 113.2 l-1.6 -0.9 v1.8z" fill="#111"/>
<text x="488.00" y="111.96" font-size="4.6" fill="#333" textLength="10.200000000000001" lengthAdjust="spacingAndGlyphs" text-anchor="middle" stroke="#333" stroke-width="0.12">P=NS</text>
<line x1="459.80" y1="120.00" x2="476.20" y2="120.00" stroke="#555" stroke-width="0.5" />
<path d="M458.8 120.0 l1.6 -0.9 v1.8z M477.2 120.0 l-1.6 -0.9 v1.8z" fill="#111"/>
<text x="467.60" y="118.76" font-size="4.6" fill="#333" textLength="13.3" lengthAdjust="spacingAndGlyphs" text-anchor="middle" stroke="#333" stroke-width="0.12">P=0.06</text>
<line x1="441.40" y1="128.50" x2="476.20" y2="128.50" stroke="#555" stroke-width="0.5" />
<path d="M440.4 128.5 l1.6 -0.9 v1.8z M477.2 128.5 l-1.6 -0.9 v1.8z" fill="#111"/>
<text x="458.80" y="126.96" font-size="4.6" fill="#333" textLength="21.2" lengthAdjust="spacingAndGlyphs" text-anchor="middle" stroke="#333" stroke-width="0.12">P=0.00004</text>
<line x1="439.60" y1="153.30" x2="460.10" y2="153.30" stroke="#555" stroke-width="0.5" />
<path d="M438.6 153.3 l1.6 -0.9 v1.8z M461.1 153.3 l-1.6 -0.9 v1.8z" fill="#111"/>
<text x="449.90" y="151.16" font-size="4.6" fill="#333" textLength="13.600000000000001" lengthAdjust="spacingAndGlyphs" text-anchor="middle" stroke="#333" stroke-width="0.12">P=0.08</text>
<text x="391.90" y="226.72" font-size="5.4" font-weight="700" fill="#404040" textLength="69" lengthAdjust="spacingAndGlyphs" text-anchor="middle" stroke="#404040" stroke-width="0.2">Total CD34 cell dose collected</text>
<text x="471.10" y="226.72" font-size="5.4" font-weight="700" fill="#404040" textLength="68.6" lengthAdjust="spacingAndGlyphs" text-anchor="middle" stroke="#404040" stroke-width="0.2">CD34 cell dose in first harvest</text>
</svg>
</body></html>
